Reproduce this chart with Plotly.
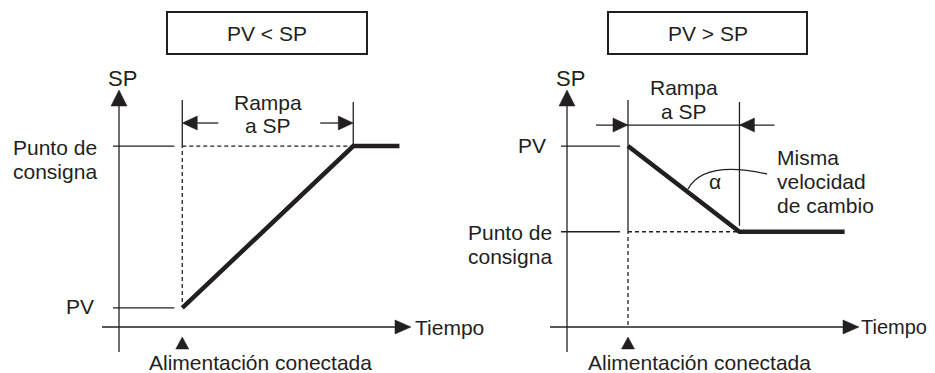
import plotly.graph_objects as go

# ---------------- data ----------------
panel_titles = ["PV < SP", "PV > SP"]
left_time = [3.7, 13.7, 16.4]      # power-on, end of ramp, end of trace
left_value = [10, 95, 95]          # PV, SP, SP
right_time = [2.9, 8.2, 13.2]
right_value = [95, 50, 50]
y_axis_label = "SP"
x_axis_label = "Tiempo"
power_on_label = "Alimentación conectada"
ramp_label = ["Rampa", "a SP"]
setpoint_label = ["Punto de", "consigna"]
pv_label = "PV"
rate_label = ["Misma", "velocidad", "de cambio"]
rate_symbol = "α"

# ---------------- style / geometry ----------------
W, H = 935, 373          # browser window
OFF = 8                  # default page body margin
INK = "#231f20"
FONT = "Liberation Sans, Arial, Helvetica, sans-serif"
FS = 21
LW = 1.3
DASH = "4px,3px"

panels = [
    dict(t=left_time, v=left_value, title=panel_titles[0], ox=119, oy=327, sx=17.1, sy=1.905,
         ax="x", ay="y", box=(167, 367), sp_lbl_x=12, pv_lbl_x=95, power_x=148, falling=False,
         time_dx=295, time_fs=21),
    dict(t=right_time, v=right_value, title=panel_titles[1], ox=567, oy=327, sx=21.03, sy=1.905,
         ax="x2", ay="y2", box=(608, 807), sp_lbl_x=467, pv_lbl_x=547, power_x=587, falling=True,
         time_dx=293, time_fs=20),
]

fig = go.Figure()
shapes, annotations, axes = [], [], {}

for i, p in enumerate(panels):
    ox, oy, sx, sy = p["ox"], p["oy"], p["sx"], p["sy"]
    xr, yr = p["ax"], p["ay"]

    def X(px): return (px - ox) / sx
    def Y(py): return (oy - py) / sy
    def dX(d): return d / sx
    def dY(d): return d / sy

    key = "" if i == 0 else str(i + 1)
    xa = dict(range=[X(OFF), X(W)], domain=[0, 1], visible=False, fixedrange=True)
    ya = dict(range=[Y(H), Y(OFF)], domain=[0, 1], visible=False, fixedrange=True)
    if i > 0:
        xa["overlaying"] = "x"
        ya["overlaying"] = "y"
        ya["anchor"] = xr
        xa["anchor"] = yr
    axes["xaxis" + key] = xa
    axes["yaxis" + key] = ya

    def line(x0, y0, x1, y1, dash=None, w=LW):
        shapes.append(dict(type="line", xref=xr, yref=yr, x0=x0, y0=y0, x1=x1, y1=y1,
                           line=dict(color=INK, width=w, dash=dash)))

    def tri(pts):
        path = "M " + " L ".join(f"{a},{b}" for a, b in pts) + " Z"
        shapes.append(dict(type="path", xref=xr, yref=yr, path=path, fillcolor=INK,
                           line=dict(color=INK, width=0.5)))

    def text(s, x, y, xanchor="center", size=FS):
        annotations.append(dict(text=s, x=x, y=y, xref=xr, yref=yr, xanchor=xanchor, yanchor="middle",
                                showarrow=False, borderpad=0, font=dict(family=FONT, size=size, color=INK)))

    t_on, t_end, t_stop = p["t"]
    PV, SP = p["v"][0], p["v"][1]

    # title box
    shapes.append(dict(type="rect", xref=xr, yref=yr, x0=X(p["box"][0]), x1=X(p["box"][1]),
                       y0=Y(12), y1=Y(54), line=dict(color=INK, width=2)))
    text(p["title"], X((p["box"][0] + p["box"][1]) / 2), Y(33))

    # axes with arrows
    line(0, dY(-25), 0, dY(222))
    tri([(-dX(8), dY(221)), (dX(8), dY(221)), (0, dY(237))])
    line(dX(-17), 0, dX(277), 0)
    tri([(dX(276), dY(7)), (dX(276), dY(-7)), (dX(292), 0)])
    text(y_axis_label, dX(3), Y(78), size=22)
    text(x_axis_label, dX(p["time_dx"]), 0, xanchor="left", size=p["time_fs"])

    # power-on marker
    tri([(t_on - dX(6.5), dY(-22)), (t_on + dX(6.5), dY(-22)), (t_on, dY(-10))])
    text(power_on_label, X(p["power_x"]), Y(362), xanchor="left")

    # level ticks and set point reference
    line(dX(-6), PV, t_on - dX(8), PV)
    line(dX(-6), SP, t_on - dX(8), SP)
    line(t_on, SP, t_end, SP, dash=DASH)

    if not p["falling"]:
        line(t_on, PV + dY(6), t_on, SP, dash=DASH)
        line(t_on, SP, t_on, SP + dY(46))
        line(t_end, SP, t_end, SP + dY(44))
        dimy = SP + dY(23)
        tri([(t_on, dimy), (t_on + dX(15), dimy + dY(7)), (t_on + dX(15), dimy - dY(7))])
        line(t_on + dX(15), dimy, t_on + dX(36), dimy)
        line(t_end - dX(33), dimy, t_end - dX(15), dimy)
        tri([(t_end, dimy), (t_end - dX(15), dimy + dY(7)), (t_end - dX(15), dimy - dY(7))])
        text(ramp_label[0], (t_on + t_end) / 2, SP + dY(44))
        text(ramp_label[1], (t_on + t_end) / 2, SP + dY(21))
    else:
        line(t_on, SP, t_on, PV + dY(46))
        line(t_on, dY(2), t_on, SP, dash=DASH)
        line(t_end, SP + dY(6), t_end, PV + dY(44))
        dimy = PV + dY(21)
        line(t_on - dX(32), dimy, t_end + dX(35), dimy)
        tri([(t_on, dimy), (t_on - dX(15), dimy + dY(7)), (t_on - dX(15), dimy - dY(7))])
        tri([(t_end, dimy), (t_end + dX(15), dimy + dY(7)), (t_end + dX(15), dimy - dY(7))])
        text(ramp_label[0], (t_on + t_end) / 2, PV + dY(59))
        text(ramp_label[1], (t_on + t_end) / 2, PV + dY(35))
        # same-rate note
        for k, s in enumerate(rate_label):
            text(s, X(776), Y(157 + 24 * k), xanchor="left")
        shapes.append(dict(type="path", xref=xr, yref=yr,
                           path=f"M {X(767)},{Y(174)} C {X(740)},{Y(168)} {X(702)},{Y(164)} {X(688)},{Y(189)}",
                           line=dict(color=INK, width=LW)))
        text(rate_symbol, X(715), Y(181))

    # set point / PV labels
    text(setpoint_label[0], X(p["sp_lbl_x"]), SP + dY(-1), xanchor="left")
    text(setpoint_label[1], X(p["sp_lbl_x"]), SP + dY(-25), xanchor="left")
    text(pv_label, X(p["pv_lbl_x"]), PV + dY(1), xanchor="right")

    # the set point ramp itself
    fig.add_trace(go.Scatter(x=p["t"], y=p["v"], mode="lines", line=dict(color=INK, width=4.5),
                             xaxis=xr, yaxis=yr, hoverinfo="skip", showlegend=False))

fig.update_layout(width=W - OFF, height=H - OFF, margin=dict(l=0, r=0, t=0, b=0), autosize=False,
                  paper_bgcolor="white", plot_bgcolor="white", showlegend=False,
                  shapes=shapes, annotations=annotations, **axes)
fig.write_html("out.html")
